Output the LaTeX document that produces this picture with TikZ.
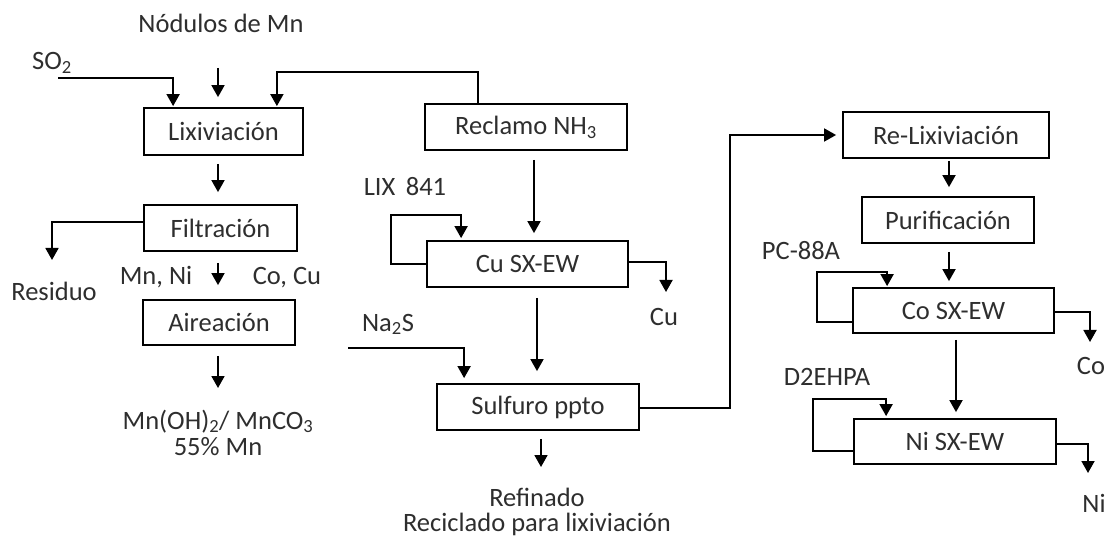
\documentclass[tikz,border=0pt]{standalone}
\usepackage{fontspec}
\setmainfont{Carlito}
\usetikzlibrary{arrows.meta}
\begin{document}
\begin{tikzpicture}[x=1pt,y=-1pt,
  every node/.style={font=\fontsize{26.5}{31}\selectfont, text=black!82, inner sep=0pt, text height=20pt, text depth=4pt},
  procbox/.style={draw=black, line width=1.8pt, text height=, text depth=},
  arr/.style={line width=1.8pt, -{Triangle[width=13pt,length=12pt]}},
  ln/.style={line width=1.8pt}]
\useasboundingbox (0,0) rectangle (1106,537);

% boxes
\node[procbox, minimum width=159pt, minimum height=47pt] (lix) at (223.5,131.5) {Lixiviación};
\node[procbox, minimum width=153pt, minimum height=46pt] (fil) at (220.5,228) {Filtración};
\node[procbox, minimum width=152pt, minimum height=45pt] (air) at (219,322.5) {Aireación};
\node[procbox, minimum width=202pt, minimum height=46pt] (rec) at (526,127) {Reclamo NH\textsubscript{3}};
\node[procbox, minimum width=201pt, minimum height=46pt] (cu) at (527.5,264) {Cu SX-EW};
\node[procbox, minimum width=202pt, minimum height=46pt] (sul) at (538,407) {Sulfuro ppto};
\node[procbox, minimum width=206pt, minimum height=46pt] (relix) at (946,135) {Re-Lixiviación};
\node[procbox, minimum width=172pt, minimum height=46pt] (pur) at (948,220) {Purificación};
\node[procbox, minimum width=201pt, minimum height=45pt] (co) at (953.5,310.5) {Co SX-EW};
\node[procbox, minimum width=202pt, minimum height=45pt] (ni) at (955,441.5) {Ni SX-EW};

% labels
\node (nodulos) at (221,25) {Nódulos de Mn};
\node (so2) at (52,62) {SO\textsubscript{2}};
\node (residuo) at (54,293) {Residuo};
\node (mnni) at (156,277) {Mn, Ni};
\node (cocu) at (287,277) {Co, Cu};
\node (mnoh) at (218,421) {Mn(OH)\textsubscript{2}/ MnCO\textsubscript{3}};
\node (mn55) at (218,447) {55\% Mn};
\node (lix841) at (405,188) {LIX\, 841};
\node (cutxt) at (664,318) {Cu};
\node (na2s) at (388,323) {Na\textsubscript{2}S};
\node (refin) at (537,498) {Refinado};
\node (recic) at (537,523) {Reciclado para lixiviación};
\node (pc88) at (801,252) {PC-88A};
\node (cotxt) at (1091,366) {Co};
\node (d2e) at (827,377) {D2EHPA};
\node (nitxt) at (1094,504) {Ni};

% free ends
\coordinate (so2s) at (58,78);
\coordinate (nod) at (218,68);
\coordinate (xL) at (218,0);
\coordinate (resend) at (52,260);
\coordinate (mnend) at (218,388);
\coordinate (xR1) at (534,0);
\coordinate (xR2) at (537,0);
\coordinate (xR3) at (541,0);
\coordinate (cuend) at (666,292);
\coordinate (na2ss) at (348,348);
\coordinate (refend) at (541,467);
\coordinate (xC1) at (949,0);
\coordinate (xC2) at (956,0);
\coordinate (coend) at (1090,342);
\coordinate (niend) at (1088,473);

% left column
\draw[arr] (so2s) -| ([xshift=30pt,yshift=1pt]lix.north west);
\draw[arr] (nod) -- ([yshift=10pt]lix.north -| nod);
\draw[arr] ([xshift=-48pt]rec.north) -- ++(0,-31) -| ([xshift=-27pt,yshift=1pt]lix.north east);
\draw[arr] ([yshift=-8pt]lix.south -| xL) -- ([yshift=12pt]fil.north -| xL);
\draw[arr] ([yshift=6pt]fil.west) -| (resend);
\draw[arr] ([yshift=-11pt]fil.south -| xL) -- ([yshift=14pt]air.north -| xL);
\draw[arr] ([yshift=-10pt]air.south -| xL) -- (mnend);

% middle column
\draw[arr] ([yshift=-9pt]rec.south -| xR1) -- ([yshift=7pt]cu.north -| xR1);
\draw[arr] (cu.west) -- ++(-35,0) |- ([xshift=35pt,yshift=25pt]cu.north west) -- ([xshift=35pt,yshift=2pt]cu.north west);
\draw[arr] ([yshift=2pt]cu.east) -| (cuend);
\draw[arr] ([yshift=-10pt]cu.south -| xR2) -- ([yshift=12pt]sul.north -| xR2);
\draw[arr] (na2ss) -| ([xshift=28pt,yshift=5pt]sul.north west);
\draw[arr] ([yshift=-8pt]sul.south -| xR3) -- (refend);
\draw[arr] ([yshift=-1pt]sul.east) -- ++(90,0) |- ([xshift=-6pt]relix.west);

% right column
\draw[arr] ([yshift=-2pt]relix.south -| xC1) -- ([yshift=9pt]pur.north -| xC1);
\draw[arr] ([yshift=-8pt]pur.south -| xC1) -- ([yshift=6pt]co.north -| xC1);
\draw[arr] ([yshift=-11.5pt]co.west) -- ++(-35,0) |- ([xshift=35pt,yshift=15pt]co.north west) -- ([xshift=35pt,yshift=1pt]co.north west);
\draw[arr] ([yshift=-1.5pt]co.east) -| (coend);
\draw[arr] ([yshift=-6pt]co.south -| xC2) -- ([yshift=6pt]ni.north -| xC2);
\draw[arr] ([yshift=-9.5pt]ni.west) -- ++(-40,0) |- ([xshift=33pt,yshift=19pt]ni.north west) -- ([xshift=33pt,yshift=2pt]ni.north west);
\draw[arr] ([yshift=-2.5pt]ni.east) -| (niend);
\end{tikzpicture}
\end{document}
